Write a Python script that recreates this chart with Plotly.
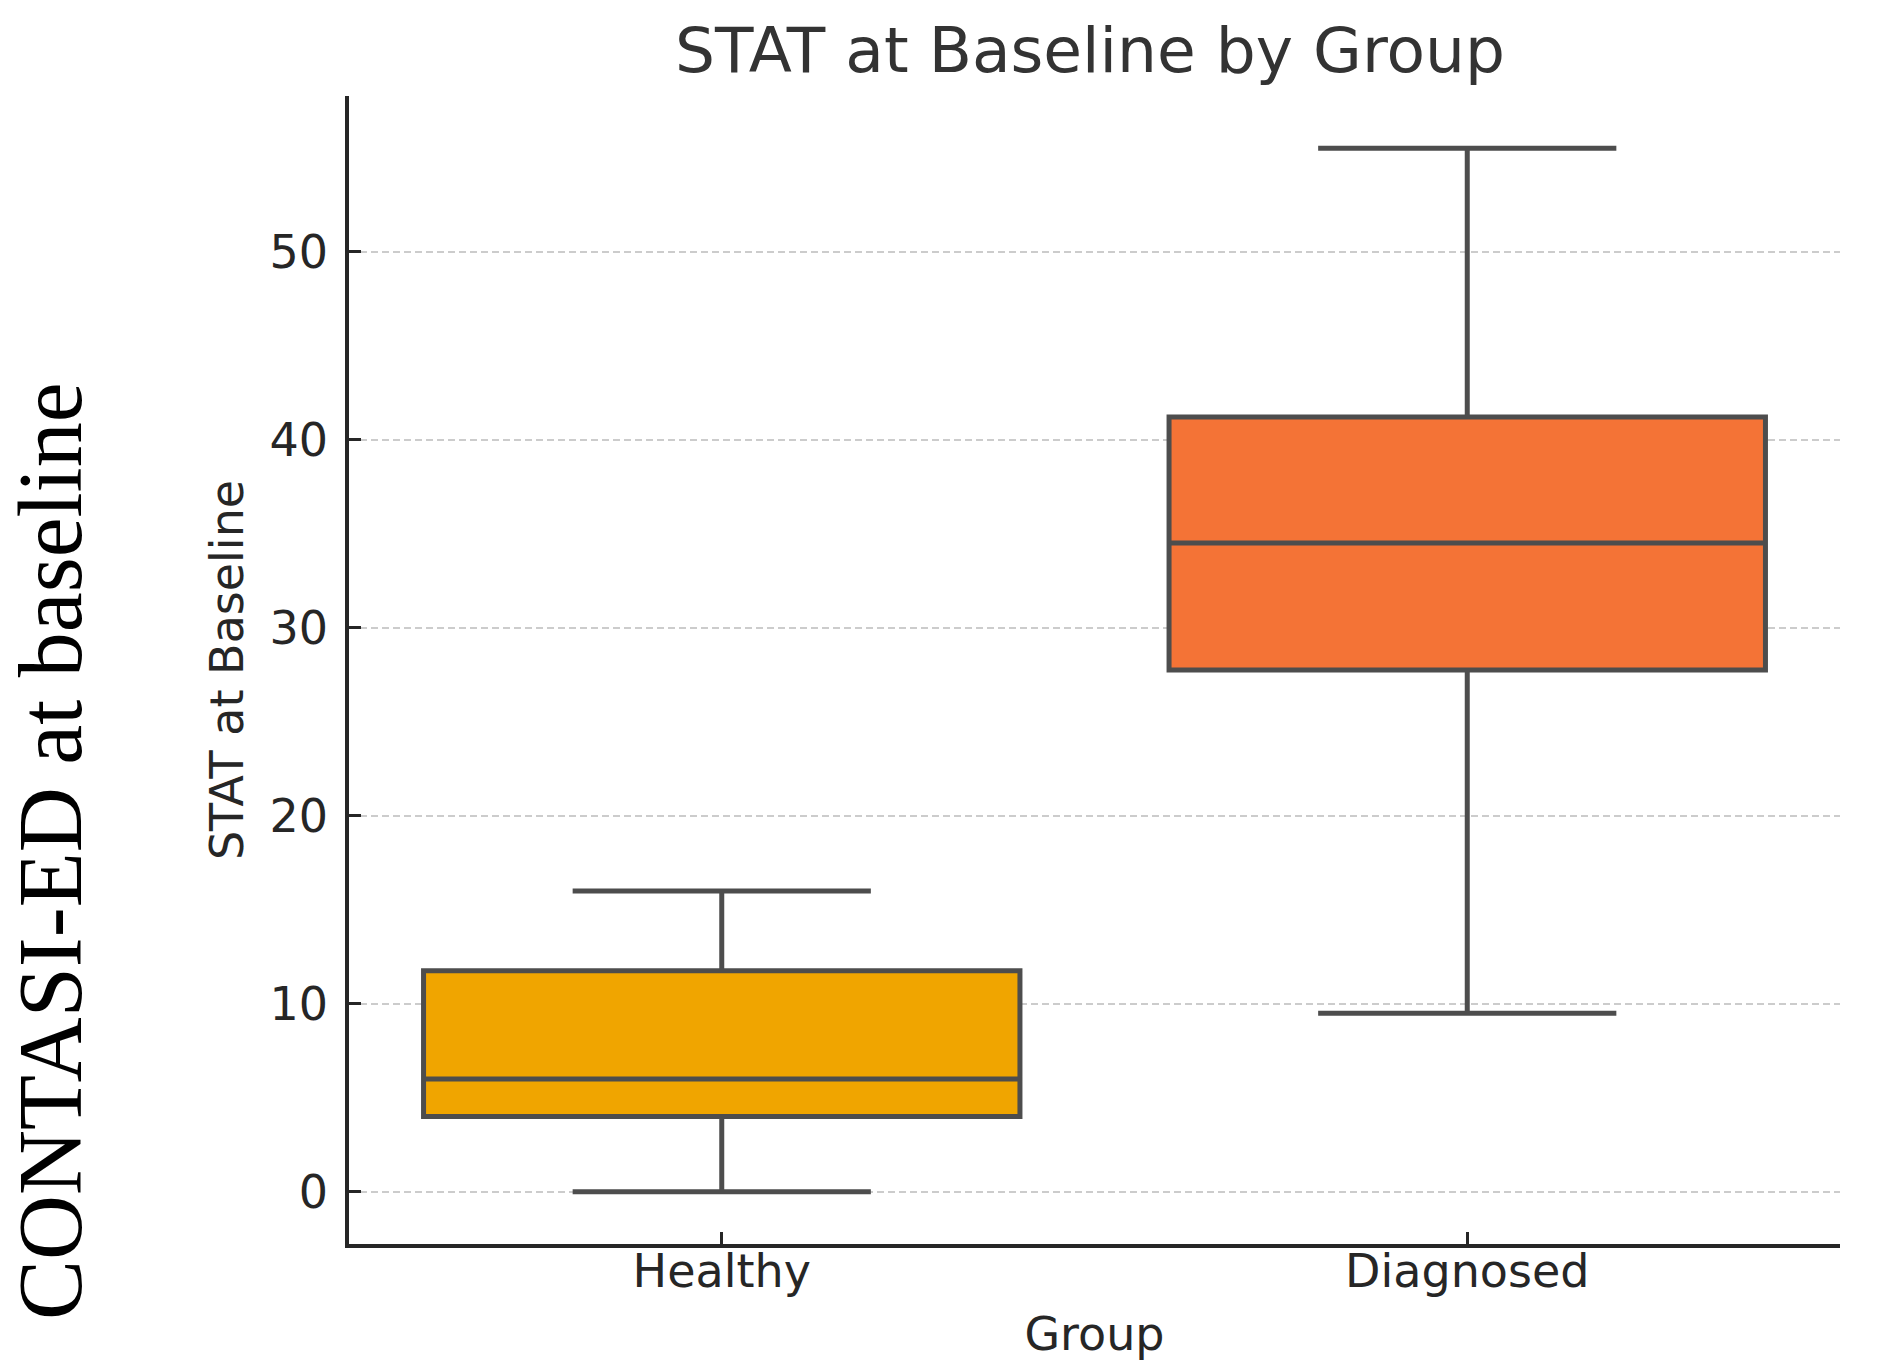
import plotly.graph_objects as go

# box summary values
groups = ["Healthy", "Diagnosed"]
lower_whisker = [0.0, 9.5]
q1_vals = [4.0, 27.75]
median_vals = [6.0, 34.5]
q3_vals = [11.75, 41.2]
upper_whisker = [16.0, 55.5]
box_colors = ["#F0A500", "#F47336"]

y_ticks = [0, 10, 20, 30, 40, 50]

fig = go.Figure()
for i, g in enumerate(groups):
    fig.add_trace(go.Box(
        x=[g],
        q1=[q1_vals[i]],
        median=[median_vals[i]],
        q3=[q3_vals[i]],
        lowerfence=[lower_whisker[i]],
        upperfence=[upper_whisker[i]],
        width=0.8,
        whiskerwidth=0.5,
        fillcolor=box_colors[i],
        line=dict(color="#4d4d4d", width=5),
        boxpoints=False,
        showlegend=False,
        hoverinfo="skip",
    ))

axis_font = dict(family="DejaVu Sans", size=46, color="#262626")

# page body keeps its default 8px margin, so the figure is 8px smaller
W, H = 1869, 1363

fig.update_layout(
    width=W,
    height=H,
    margin=dict(l=341, r=37, t=88, b=127),
    paper_bgcolor="white",
    plot_bgcolor="white",
    font=dict(family="DejaVu Sans", color="#262626"),
    title=dict(
        text="STAT at Baseline by Group",
        font=dict(family="DejaVu Sans", size=63, color="#333333"),
        x=1082 / W, xref="container", xanchor="center",
        y=1 - 42 / H, yref="container", yanchor="middle",
    ),
    xaxis=dict(
        type="category",
        categoryorder="array",
        categoryarray=groups,
        range=[-0.5, 1.5],
        showgrid=False,
        showline=True,
        linecolor="#262626",
        linewidth=3.5,
        ticks="inside",
        ticklen=12,
        tickwidth=2.5,
        tickcolor="#262626",
        tickfont=axis_font,
        ticklabelstandoff=-16,
        title=dict(text="Group", font=axis_font, standoff=22),
    ),
    yaxis=dict(
        range=[-2.775, 58.275],
        tickvals=y_ticks,
        showgrid=True,
        gridcolor="rgba(128,128,128,0.4)",
        gridwidth=2,
        griddash="7px,4px",
        zeroline=False,
        showline=True,
        linecolor="#262626",
        linewidth=3.5,
        ticks="inside",
        ticklen=12,
        tickwidth=2.5,
        tickcolor="#262626",
        tickfont=axis_font,
        ticklabelstandoff=8,
        layer="above traces",
        title=dict(text="STAT at Baseline", font=axis_font, standoff=12),
    ),
    annotations=[
        dict(
            text="CONTASI-ED at baseline",
            textangle=-90,
            xref="paper", yref="paper",
            x=(50 - 349) / 1491, y=(1244 - 851) / 1148,
            xanchor="center", yanchor="middle",
            height=96,
            showarrow=False,
            font=dict(family="Liberation Serif", size=90, color="black"),
        )
    ],
)

fig.write_html("out.html")
